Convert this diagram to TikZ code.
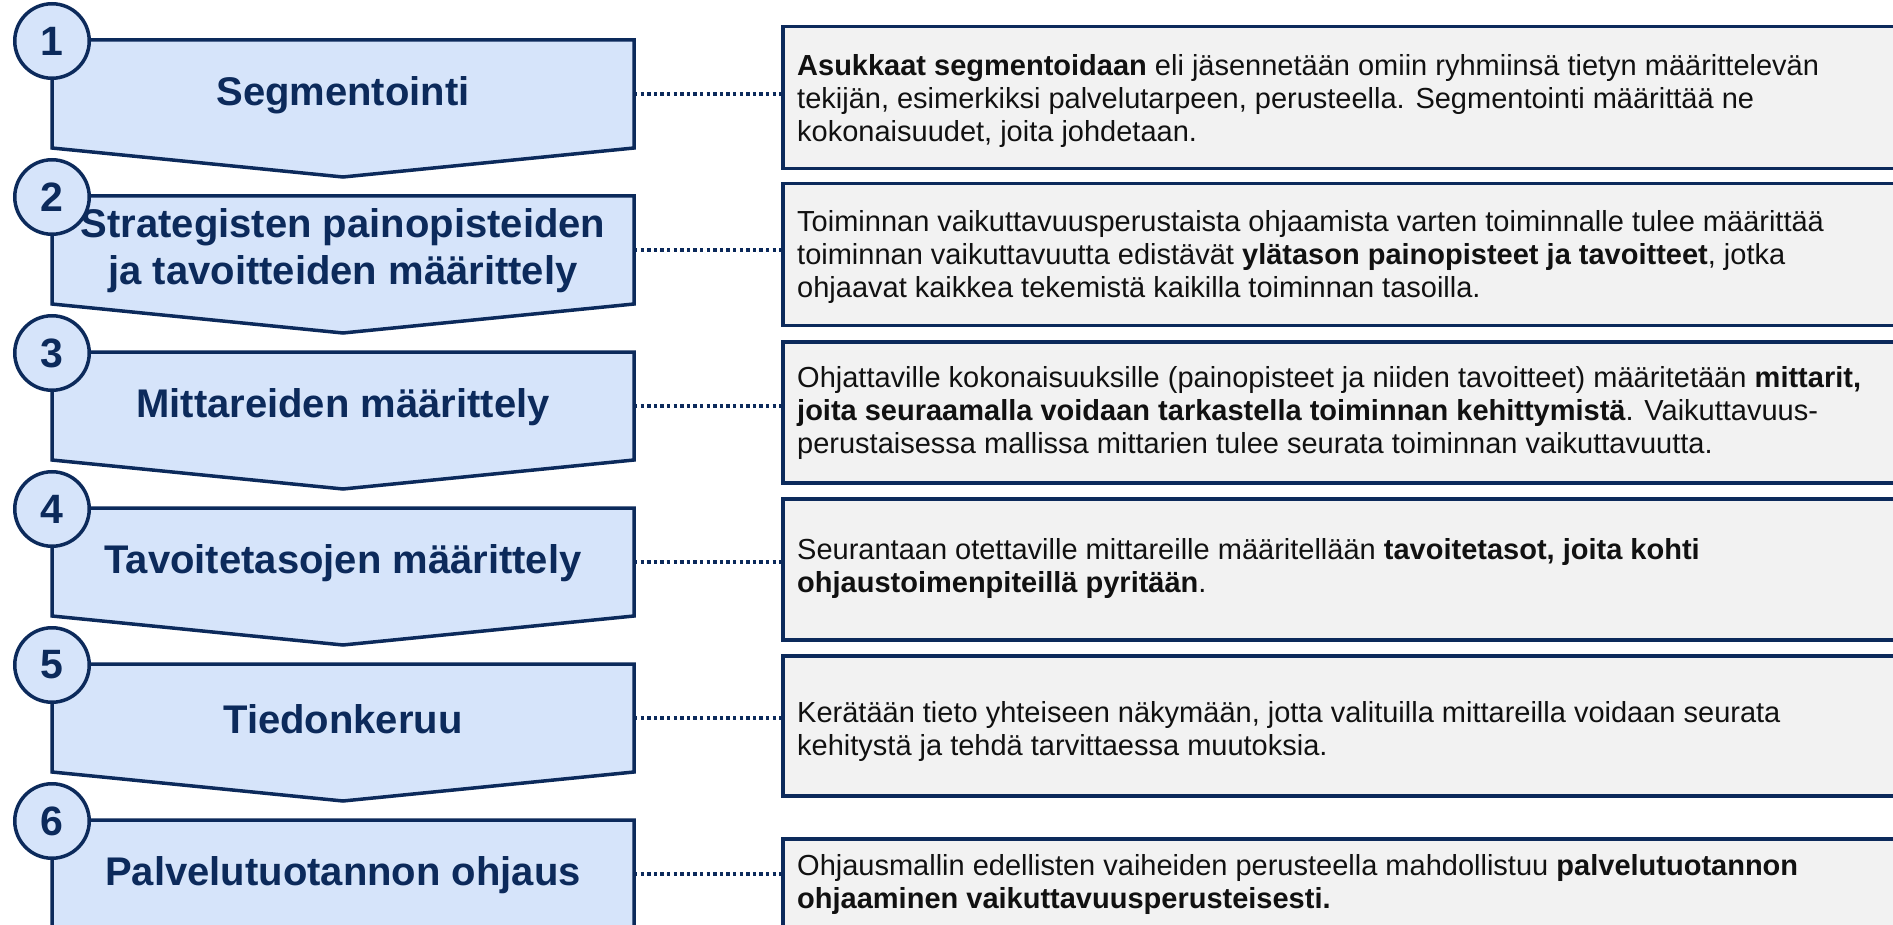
\documentclass[tikz,border=0pt]{standalone}
\usepackage{fontspec}
\setmainfont{Liberation Sans}
\definecolor{navy}{HTML}{0C2A5B}
\definecolor{lightblue}{HTML}{D6E4FA}
\definecolor{boxgray}{HTML}{F2F2F2}
\definecolor{bodytext}{HTML}{111111}
\tikzset{
  stepshape/.style={draw=navy, fill=lightblue, line width=3.5pt, line join=miter},
  numcircle/.style={circle, draw=navy, fill=lightblue, line width=3.5pt, minimum size=74.5pt, inner sep=0pt,
    font=\fontsize{41}{41}\selectfont\bfseries, text=navy},
  heading/.style={font=\fontsize{40}{47}\selectfont\bfseries, text=navy, align=center, inner sep=0pt},
  descbox/.style={draw=navy, fill=boxgray, line width=3.5pt, anchor=north west, minimum width=1130pt, inner sep=0pt},
  desctext/.style={font=\fontsize{29}{33}\selectfont, text=bodytext, align=left, anchor=west, inner sep=0pt},
  link/.style={draw=navy, line width=3.5pt, dash pattern=on 3.4pt off 3.2pt}
}
\newcommand{\stepshape}[4]{% #1 name, #2 top y, #3 number, #4 heading
  \draw[stepshape] (52,#2) -- (634,#2) -- (634,#2+108) -- (343,#2+137) -- (52,#2+108) -- cycle;
  \node[heading] (#1) at (343,#2+55) {#4};
  \coordinate (#1r) at (634,#2+54);
  \node[numcircle] (#1n) at (52,#2+1) {#3};
}
\begin{document}
\begin{tikzpicture}[x=1pt,y=-1pt]
\useasboundingbox (0,0) rectangle (1893,925);
\clip (0,0) rectangle (1893,925);
% description boxes
\node[descbox, minimum height=142pt] (b1) at (781,25) {};
\node[descbox, minimum height=142pt] (b2) at (781,182) {};
\node[descbox, minimum height=141pt] (b3) at (781,340) {};
\node[descbox, minimum height=141pt] (b4) at (781,497) {};
\node[descbox, minimum height=140pt] (b5) at (781,654) {};
\node[descbox, minimum height=143pt] (b6) at (781,837) {};
% steps
\stepshape{s1}{40}{1}{Segmentointi}
\stepshape{s2}{196}{2}{Strategisten painopisteiden\\ja tavoitteiden määrittely}
\stepshape{s3}{352}{3}{Mittareiden määrittely}
\stepshape{s4}{508}{4}{Tavoitetasojen määrittely}
\stepshape{s5}{664}{5}{Tiedonkeruu}
\stepshape{s6}{820}{6}{Palvelutuotannon ohjaus}
% connectors
\foreach \i in {1,...,6} { \draw[link] (s\i r) -- (b\i.west |- s\i r); }
% texts
\node[desctext] (t1) at (797,101) {\textbf{Asukkaat segmentoidaan} eli jäsennetään omiin ryhmiinsä tietyn määrittelevän\\tekijän, esimerkiksi palvelutarpeen, perusteella. Segmentointi määrittää ne\\kokonaisuudet, joita johdetaan.};
\node[desctext] (t2) at (797,257) {Toiminnan vaikuttavuusperustaista ohjaamista varten toiminnalle tulee määrittää\\toiminnan vaikuttavuutta edistävät \textbf{ylätason painopisteet ja tavoitteet}, jotka\\ohjaavat kaikkea tekemistä kaikilla toiminnan tasoilla.};
\node[desctext] (t3) at (797,413) {Ohjattaville kokonaisuuksille (painopisteet ja niiden tavoitteet) määritetään \textbf{mittarit,}\\\textbf{joita seuraamalla voidaan tarkastella toiminnan kehittymistä}. Vaikuttavuus-\\perustaisessa mallissa mittarien tulee seurata toiminnan vaikuttavuutta.};
\node[desctext] (t4) at (797,568) {Seurantaan otettaville mittareille määritellään \textbf{tavoitetasot, joita kohti}\\\textbf{ohjaustoimenpiteillä pyritään}.};
\node[desctext] (t5) at (797,731) {Kerätään tieto yhteiseen näkymään, jotta valituilla mittareilla voidaan seurata\\kehitystä ja tehdä tarvittaessa muutoksia.};
\node[desctext] (t6) at (797,884) {Ohjausmallin edellisten vaiheiden perusteella mahdollistuu \textbf{palvelutuotannon}\\\textbf{ohjaaminen vaikuttavuusperusteisesti.}};
\end{tikzpicture}
\end{document}
